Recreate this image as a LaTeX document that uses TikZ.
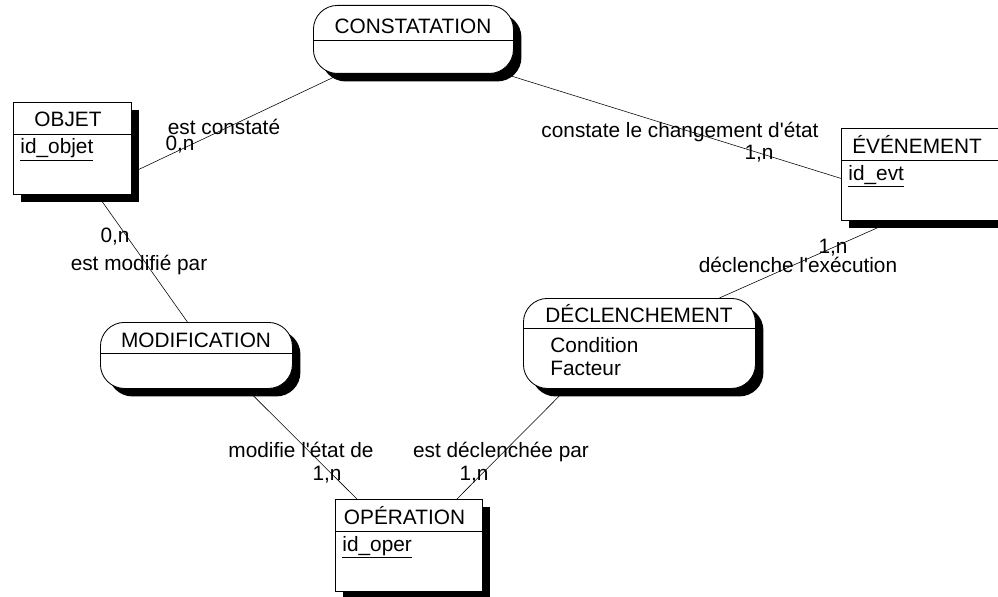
\documentclass[tikz,border=0pt]{standalone}
\usepackage{fontspec}
\setmainfont{Liberation Sans}
\usetikzlibrary{shadows,backgrounds}
\begin{document}
\begin{tikzpicture}[x=0.025cm,y=-0.025cm,line width=0.6pt,
  font=\fontsize{14.8}{17}\selectfont,
  box/.style={draw,fill=white,inner sep=0pt,anchor=north west,
    drop shadow={fill=black,opacity=1,shadow xshift=0.2cm,shadow yshift=-0.2cm}},
  asso/.style={box,rounded corners=0.6cm},
  lbl/.style={anchor=base,inner sep=0pt}]
\useasboundingbox (0,0) rectangle (998,597);
\def\ent#1#2#3#4#5#6{
\node [box,minimum width=#4*0.025cm,minimum height=2.3cm] (#1) at (#2,#3) {};
\draw (#2,#3+32) -- +(#4,0);
\node [lbl] (#1-t) at (#2+#4/2-4,#3+25) {#5};
\node [lbl,anchor=base west] (#1-id) at (#2+7,#3+52) {\underline{#6}};
}
\def\asso#1#2#3#4#5#6#7{
\node [asso,minimum width=#4*0.025cm,minimum height=#5*0.025cm] (#1) at (#2,#3) {};
\draw (#2,#3+#6) -- +(#4,0);
\node [lbl] (#1-t) at (#2+#4/2,#3+#6-6) {#7};
}
\ent{objet}{13}{102}{118}{OBJET}{id\_objet}
\ent{evt}{841}{128}{160}{ÉVÉNEMENT}{id\_evt}
\ent{oper}{335}{499}{147}{OPÉRATION}{id\_oper}
\asso{constat}{313}{5}{200}{68}{35}{CONSTATATION}
\asso{modif}{100}{322}{192}{66}{31}{MODIFICATION}
\asso{decl}{523}{298}{232}{90}{30}{DÉCLENCHEMENT}
\node [lbl,anchor=base west] (cond) at (550,352) {Condition};
\node [lbl,anchor=base west] (fact) at (550,375) {Facteur};
\begin{scope}[on background layer]
\draw (constat) -- ([shift={(7,21)}]objet.east);
\draw ([shift={(-20,0)}]constat.center) -- ([shift={(0,4)}]evt.west);
\draw ([shift={(25,0)}]objet.south) -- ([shift={(-9,0)}]modif.north);
\draw ([shift={(50,0)}]modif.south) -- ([shift={(-52,0)}]oper.north);
\draw ([shift={(-73,0)}]decl.south) -- ([shift={(48,0)}]oper.north);
\draw ([shift={(80,0)}]decl.north) -- ([shift={(52,0)}]evt.south west);
\end{scope}
\node [lbl] (l1) at (224,135) {est constaté};
\node [lbl] (c1) at (180,151) {0,n};
\node [lbl] (l2) at (680,138) {constate le changement d\textquotesingle état};
\node [lbl] (c2) at (759,160) {1,n};
\node [lbl] (c3) at (115,242) {0,n};
\node [lbl] (l3) at (139,270) {est modifié par};
\node [lbl] (c4) at (833,253) {1,n};
\node [lbl] (l4) at (798,272) {déclenche l\textquotesingle exécution};
\node [lbl] (l5) at (301,457) {modifie l\textquotesingle état de};
\node [lbl] (c5) at (327,480) {1,n};
\node [lbl] (l6) at (501,457) {est déclenchée par};
\node [lbl] (c6) at (474,480) {1,n};
\end{tikzpicture}
\end{document}
